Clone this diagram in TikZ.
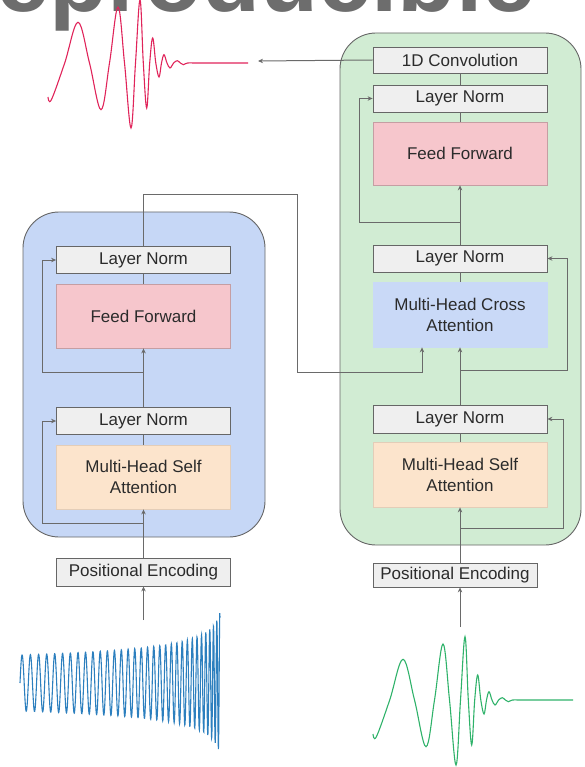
\documentclass[tikz,border=0pt]{standalone}
\usepackage{fontspec}
\setmainfont{Liberation Sans}
\usetikzlibrary{arrows.meta}

\definecolor{linegray}{HTML}{666666}
\definecolor{wiregray}{HTML}{6A6A6A}
\definecolor{txt}{HTML}{2B2B2B}
\definecolor{lnfill}{HTML}{EFEFEF}
\definecolor{fffill}{HTML}{F6C6CC}
\definecolor{safill}{HTML}{FCE4CC}
\definecolor{cafill}{HTML}{C9D9F7}
\definecolor{encbg}{HTML}{C6D7F6}
\definecolor{decbg}{HTML}{D1ECD3}
\definecolor{titlegray}{HTML}{6D6D6D}
\definecolor{gwred}{HTML}{E0245A}
\definecolor{gwgreen}{HTML}{2FB26A}
\definecolor{chirpblue}{HTML}{2C7FBE}

% one merger waveform, baseline at y=0
\newcommand{\mergerwave}{plot[smooth, tension=0.6] coordinates {(0,34) (3.4,36.7) (16.7,0) (30,-40.7) (41.5,0) (53,46.7) (61.5,0) (70,-56) (76.5,0) (83,65) (87.5,0) (92,-63.3) (95.3,0) (98.7,45) (101.7,0) (104.7,-25) (107.8,0) (111,14) (113.5,0) (116,-8.3) (119,0) (122,5) (125.6,0) (129.3,-2.3) (132.3,0) (135.3,1.7) (139.5,0) (150,0) (200,0)}}

\begin{document}
\begin{tikzpicture}[x=1pt,y=-1pt,
  box/.style={draw=linegray, line width=0.8pt, text=txt, font=\fontsize{17}{21}\selectfont, inner sep=0pt, align=center, minimum width=174pt},
  norm/.style={box, fill=lnfill, minimum height=27pt},
  ff/.style={box, fill=fffill, draw=fffill!80!black, minimum height=64pt},
  selfatt/.style={box, fill=safill, draw=safill!90!black, minimum height=64pt},
  crossatt/.style={box, fill=cafill, draw=cafill, minimum height=65pt},
  wire/.style={draw=wiregray, line width=1pt},
  arr/.style={wire, -{Stealth[length=5pt,width=4.5pt]}},
  panel/.style={rounded corners=36pt, draw=linegray, line width=0.9pt}]
\useasboundingbox (0,0) rectangle (584,767);
\clip (0,0) rectangle (584,767);

\node[anchor=base west, inner sep=0pt, text=titlegray, font=\fontsize{95}{95}\selectfont\bfseries] (T) at (-72,12) {Reproducible};

% panels
\draw[panel, fill=encbg] (23,212) rectangle (265,537);
\draw[panel, fill=decbg] (340,33) rectangle (581,545);

% encoder
\node[norm] (ELN2) at (143.5,260) {Layer Norm};
\node[ff] (EFF) at (143.5,316) {Feed Forward};
\node[norm] (ELN1) at (143.5,421) {Layer Norm};
\node[selfatt] (EMSA) at (143.5,477) {Multi-Head Self\\Attention};
\node[norm, minimum height=28pt] (EPE) at (143.5,572) {Positional Encoding};

% decoder
\node[norm, minimum height=26pt] (CONV) at (460,60) {1D Convolution};
\node[norm] (DLN3) at (460,98.5) {Layer Norm};
\node[ff, minimum height=63pt] (DFF) at (460,153.5) {Feed Forward};
\node[norm] (DLN2) at (460,258.5) {Layer Norm};
\node[crossatt] (DCA) at (460,314.5) {Multi-Head Cross\\Attention};
\node[norm, minimum height=28pt] (DLN1) at (460,419) {Layer Norm};
\node[selfatt, minimum height=65pt] (DMSA) at (460,474.5) {Multi-Head Self\\Attention};
\node[norm, minimum width=164pt, minimum height=24pt] (DPE) at (455,575) {Positional Encoding};

% waves
\draw[chirpblue, line width=1.1pt] plot[domain=20:220, samples=1000] (\x, {683 - 28*(205/(225-\x))^0.25*sin(302.7*(205^0.7-(225-\x)^0.7))});
\draw[gwgreen, line width=1.1pt, shift={(373,700)}] \mergerwave;
\draw[gwred, line width=1.1pt, shift={(48,63)}] \mergerwave;

\coordinate (ein) at (143.5,620);
\coordinate (eb1) at (143.5,523);
\coordinate (eb2) at (143.5,372);
\coordinate (din) at (460,627);
\coordinate (db1) at (460,528);
\coordinate (db2) at (460,370);
\coordinate (db3) at (460,222);
\coordinate (dout) at (258,61);

% encoder wires
\draw[arr] (ein) -- (EPE.south);
\draw[arr] (EPE.north) -- (EMSA.south);
\draw[wire] (EMSA.north) -- (ELN1.south);
\draw[arr] (eb1) -| ([xshift=-14pt]ELN1.west) -- (ELN1.west);
\draw[arr] (ELN1.north) -- (EFF.south);
\draw[wire] (EFF.north) -- (ELN2.south);
\draw[arr] (eb2) -| ([xshift=-14pt]ELN2.west) -- (ELN2.west);
\draw[arr] (ELN2.north) |- (297,195) |- (422,372) -- ([xshift=-38pt]DCA.south);

% decoder wires
\draw[arr] (din) -- (din |- DPE.south);
\draw[arr] (din |- DPE.north) -- (DMSA.south);
\draw[wire] (DMSA.north) -- (DLN1.south);
\draw[arr] (db1) -| ([xshift=16pt]DLN1.east) -- (DLN1.east);
\draw[arr] (DLN1.north) -- (DCA.south);
\draw[wire] (DCA.north) -- (DLN2.south);
\draw[arr] (db2) -| ([xshift=20pt]DLN2.east) -- (DLN2.east);
\draw[arr] (DLN2.north) -- (DFF.south);
\draw[arr] (db3) -| ([xshift=-13pt]DLN3.west) -- (DLN3.west);
\draw[wire] (DFF.north) -- (DLN3.south);
\draw[wire] (DLN3.north) -- (CONV.south);
\draw[arr] (CONV.west) -- (dout);
\end{tikzpicture}
\end{document}
